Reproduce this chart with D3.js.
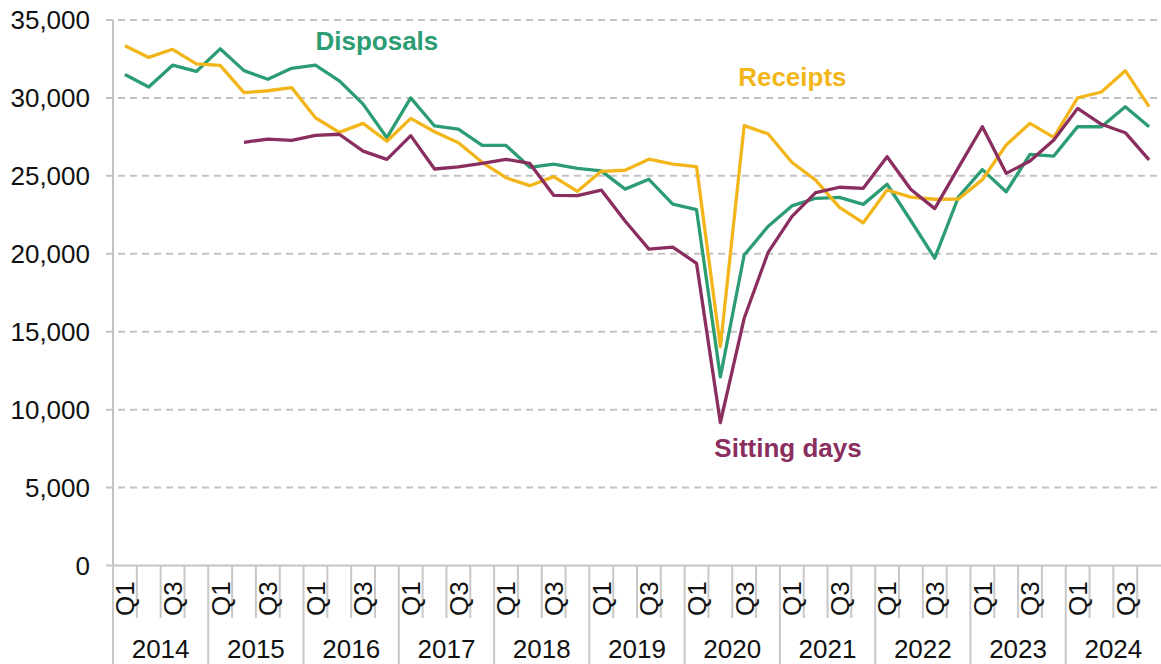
<!DOCTYPE html>
<html>
<head>
<meta charset="utf-8">
<script src="https://cdn.jsdelivr.net/npm/d3@7"></script>
<style>
  body { margin: 0; background: #fff; }
  text { font-family: "Liberation Sans", Arial, Helvetica, sans-serif; }
</style>
</head>
<body>
<div id="chart"></div>
<script>
var years = ["2014","2015","2016","2017","2018","2019","2020","2021","2022","2023","2024"];
var quarterNames = ["Q1","Q2","Q3","Q4"];
var yTicks = [0, 5000, 10000, 15000, 20000, 25000, 30000, 35000];

var disposals = [
  31500, 30700, 32100, 31700,
  33150, 31750, 31200, 31900,
  32100, 31100, 29600, 27450,
  30000, 28200, 28000, 26950,
  26950, 25550, 25750, 25480,
  25320, 24150, 24780, 23180,
  22830, 12100, 19920, 21750,
  23070, 23560, 23620, 23170,
  24460, 22120, 19720, 23660,
  25400, 23980, 26380, 26270,
  28160, 28150, 29440, 28150
];
var receipts = [
  33350, 32600, 33120, 32180,
  32090, 30340, 30460, 30660,
  28730, 27790, 28370, 27220,
  28690, 27830, 27130, 25870,
  24880, 24370, 24950, 24010,
  25290, 25360, 26070, 25750,
  25590, 14040, 28220, 27700,
  25870, 24730, 22980, 21990,
  24090, 23640, 23500, 23510,
  24760, 26980, 28370, 27470,
  30010, 30380, 31750, 29440
];
var sittingDays = [
  null, null, null, null,
  null, 27150, 27360, 27280,
  27600, 27670, 26590, 26060,
  27580, 25440, 25570, 25800,
  26060, 25800, 23750, 23730,
  24090, 22100, 20300, 20430,
  19390, 9160, 15860, 20070,
  22380, 23920, 24270, 24200,
  26230, 24120, 22900, 25540,
  28150, 25160, 25950, 27300,
  29330, 28310, 27770, 26020
];

var seriesNames = ["Disposals", "Receipts", "Sitting days"];
var seriesColors = ["#2c9d73", "#f2b61b", "#8a2e60"];
// where each series label sits: quarter index, value, nudge
var labelQuarter = [8, 26, 25];
var labelValue = [33100, 30750, 6950];
var labelNudge = [0, -6, -6];

var quarters = [];
years.forEach(function(yr) {
  quarterNames.forEach(function(q) { quarters.push(yr + " " + q); });
});

var w = 1161, h = 664;
var padLeft = 113, padRight = 1161, padTop = 20, padBottom = 565.5;
var fontSize = 26;

var svg = d3.select("#chart").append("svg")
  .attr("width", w)
  .attr("height", h);

var x = d3.scaleBand().domain(quarters).range([padLeft, padRight]);
var xYear = d3.scaleBand().domain(years).range([padLeft, padRight]);
var y = d3.scaleLinear().domain([0, 35000]).range([padBottom, padTop]);

// gridlines
svg.append("g").selectAll("line")
  .data(yTicks)
  .enter().append("line")
  .attr("x1", padLeft - 7)
  .attr("x2", w)
  .attr("y1", function(d) { return y(d); })
  .attr("y2", function(d) { return y(d); })
  .attr("stroke", "#c3c3c3")
  .attr("stroke-width", 2)
  .attr("stroke-dasharray", function(d) { return d === 0 ? null : "7,5"; });

// y axis line
svg.append("line")
  .attr("x1", padLeft).attr("x2", padLeft)
  .attr("y1", y(35000)).attr("y2", padBottom)
  .attr("stroke", "#c3c3c3")
  .attr("stroke-width", 2);

// y labels
svg.append("g").selectAll("text")
  .data(yTicks)
  .enter().append("text")
  .attr("x", 90)
  .attr("y", function(d) { return y(d); })
  .attr("dy", "0.35em")
  .attr("text-anchor", "end")
  .attr("font-size", fontSize)
  .attr("fill", "#111")
  .text(d3.format(","));

// quarter separators
svg.append("g").selectAll("line")
  .data(quarters.filter(function(d, i) { return i % 4 !== 0; }))
  .enter().append("line")
  .attr("x1", function(d) { return x(d); })
  .attr("x2", function(d) { return x(d); })
  .attr("y1", padBottom)
  .attr("y2", 618)
  .attr("stroke", "#c8c8c8")
  .attr("stroke-width", 2);

// year separators
svg.append("g").selectAll("line")
  .data(years)
  .enter().append("line")
  .attr("x1", function(d) { return xYear(d); })
  .attr("x2", function(d) { return xYear(d); })
  .attr("y1", padBottom)
  .attr("y2", h)
  .attr("stroke", "#c8c8c8")
  .attr("stroke-width", 2);

// quarter labels (Q1 and Q3 only)
svg.append("g").selectAll("text")
  .data(quarters.filter(function(d, i) { return i % 2 === 0; }))
  .enter().append("text")
  .attr("transform", function(d) {
    return "translate(" + (x(d) + x.bandwidth() / 2) + ",616) rotate(-90)";
  })
  .attr("dy", "0.36em")
  .attr("text-anchor", "start")
  .attr("font-size", fontSize)
  .attr("fill", "#111")
  .text(function(d) { return d.split(" ")[1]; });

// year labels
svg.append("g").selectAll("text")
  .data(years)
  .enter().append("text")
  .attr("x", function(d) { return xYear(d) + xYear.bandwidth() / 2; })
  .attr("y", 658)
  .attr("text-anchor", "middle")
  .attr("font-size", fontSize)
  .attr("fill", "#111")
  .text(function(d) { return d; });

// lines
var allSeries = [disposals, receipts, sittingDays];
var line = d3.line()
  .defined(function(d) { return d != null; })
  .x(function(d, i) { return x(quarters[i]) + x.bandwidth() / 2; })
  .y(function(d) { return y(d); });

svg.append("g").selectAll("path")
  .data(allSeries)
  .enter().append("path")
  .attr("d", line)
  .attr("fill", "none")
  .attr("stroke", function(d, i) { return seriesColors[i]; })
  .attr("stroke-width", 3.3)
  .attr("stroke-linejoin", "round");

// series labels
svg.append("g").selectAll("text")
  .data(seriesNames)
  .enter().append("text")
  .attr("x", function(d, i) { return x(quarters[labelQuarter[i]]) + x.bandwidth() / 2 + labelNudge[i]; })
  .attr("y", function(d, i) { return y(labelValue[i]); })
  .attr("font-size", 26)
  .attr("font-weight", "bold")
  .attr("fill", function(d, i) { return seriesColors[i]; })
  .text(function(d) { return d; });
</script>
</body>
</html>
